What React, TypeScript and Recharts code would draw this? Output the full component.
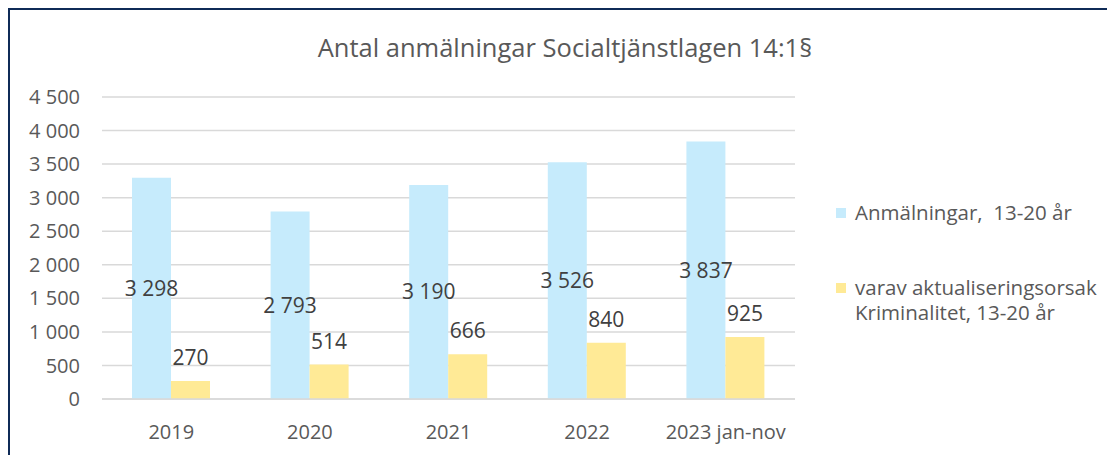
import React from 'react'
import { BarChart, Bar, XAxis, YAxis, CartesianGrid, LabelList } from 'recharts'

const years = ['2019', '2020', '2021', '2022', '2023 jan-nov']
const anmalningar = [3298, 2793, 3190, 3526, 3837]
const kriminalitet = [270, 514, 666, 840, 925]
const yTicks = [0, 500, 1000, 1500, 2000, 2500, 3000, 3500, 4000, 4500]

const data = years.map((y, i) => ({
  year: y,
  anm: anmalningar[i],
  krim: kriminalitet[i],
}))

const font = '"Open Sans", sans-serif'
const textColor = '#595959'
const blue = '#C6EBFC'
const yellow = '#FFEA96'
const fmt = (v: number) => String(v).replace(/\B(?=(\d{3})+(?!\d))/g, ' ')

const legendItems = [
  { color: blue, lines: ['Anmälningar,  13-20 år'] },
  { color: yellow, lines: ['varav aktualiseringsorsak', 'Kriminalitet, 13-20 år'] },
]

function LegendBox() {
  return (
    <div style={{ position: 'absolute', left: 826, top: 190, fontFamily: font, fontSize: 20.5, color: textColor, lineHeight: '25px' }}>
      {legendItems.map((it, i) => (
        <div key={i} style={{ display: 'flex', alignItems: 'flex-start', marginBottom: i === 0 ? 50 : 0 }}>
          <span style={{ width: 10, height: 10, background: it.color, marginTop: 8, marginRight: 9, flexShrink: 0 }} />
          <span style={{ whiteSpace: 'pre' }}>{it.lines.join('\n')}</span>
        </div>
      ))}
    </div>
  )
}

export default function App() {
  return (
    <div style={{ width: 1110, height: 450, borderTop: '2px solid #0f2b57', borderLeft: '2px solid #0f2b57', position: 'relative' }}>
      <div style={{ position: 'absolute', left: 0, width: 1110, top: 20, textAlign: 'center', fontFamily: font, fontSize: 25.5, color: textColor }}>
        Antal anmälningar Socialtjänstlagen 14:1§
      </div>
      <BarChart width={1100} height={440} data={data} margin={{ top: 87, right: 315, bottom: 21, left: 0 }} barGap={0} barSize={39}>
        <CartesianGrid vertical={false} stroke="#d9d9d9" strokeWidth={1.5} />
        <XAxis dataKey="year" height={30} tickSize={0} tickMargin={26} axisLine={{ stroke: '#d9d9d9', strokeWidth: 1.5 }}
          tick={{ fontSize: 20, fill: textColor, fontFamily: font }} />
        <YAxis width={92} domain={[0, 4500]} ticks={yTicks} tickFormatter={fmt} axisLine={false} tickSize={0} tickMargin={22}
          tick={{ fontSize: 20, fill: textColor, fontFamily: font }} />
        <Bar dataKey="anm" name="Anmälningar,  13-20 år" fill={blue} isAnimationActive={false}>
          <LabelList dataKey="anm" position="center" formatter={(v: any) => fmt(Number(v))} fill="#404040" fontSize={21} fontFamily={font} />
        </Bar>
        <Bar dataKey="krim" name="varav aktualiseringsorsak Kriminalitet, 13-20 år" fill={yellow} isAnimationActive={false}>
          <LabelList dataKey="krim" position="top" offset={16} formatter={(v: any) => fmt(Number(v))} fill="#404040" fontSize={21} fontFamily={font} />
        </Bar>
      </BarChart>
      <LegendBox />
    </div>
  )
}
